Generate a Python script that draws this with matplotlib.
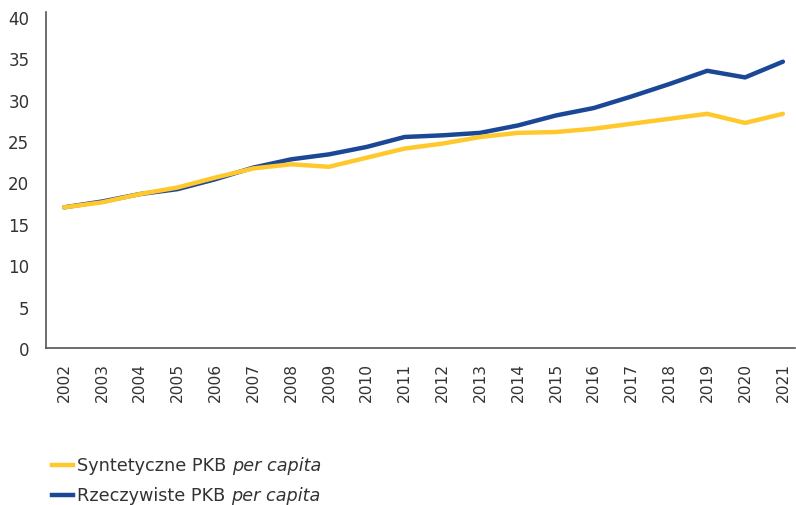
import matplotlib
matplotlib.use("Agg")
import matplotlib.pyplot as plt
from matplotlib.lines import Line2D

years = list(range(2002, 2022))
synthetic = [17.0, 17.6, 18.6, 19.4, 20.6, 21.7, 22.2, 21.9, 23.0, 24.1,
             24.7, 25.5, 26.0, 26.1, 26.5, 27.1, 27.7, 28.3, 27.2, 28.3]
actual = [17.0, 17.7, 18.6, 19.2, 20.4, 21.8, 22.8, 23.4, 24.3, 25.5,
          25.7, 26.0, 26.9, 28.1, 29.0, 30.4, 31.9, 33.5, 32.7, 34.6]
yticks = [0, 5, 10, 15, 20, 25, 30, 35, 40]
labels = ["Syntetyczne PKB ", "Rzeczywiste PKB "]

YELLOW = "#FFC92E"
BLUE = "#1B4797"
TXT = "#333333"

plt.rcParams['font.family'] = ['DejaVu Sans']

fig = plt.figure(figsize=(7.96, 5.06), dpi=100)
ax = fig.add_axes([46/796, 1-349/506, 1-46/796-1/796, (349-18)/506])

ax.plot(years, synthetic, color=YELLOW, lw=3.2, solid_capstyle='round', zorder=3)
ax.plot(years, actual, color=BLUE, lw=3.2, solid_capstyle='round', zorder=2)

ax.set_xlim(2001.52, 2021.32)
ax.set_ylim(0, 40)
ax.set_yticks(yticks)
ax.set_yticklabels([str(v) for v in yticks], fontsize=12, color=TXT)
ax.set_xticks(years)
ax.set_xticklabels([str(y) for y in years], rotation=90, fontsize=11.2, color=TXT)
ax.tick_params(length=0)
ax.tick_params(axis='x', pad=10)
ax.tick_params(axis='y', pad=12)
for s in ['top', 'right']:
    ax.spines[s].set_visible(False)
for s in ['left', 'bottom']:
    ax.spines[s].set_color('#555555')
    ax.spines[s].set_linewidth(1.2)
ax.spines['left'].set_bounds(0, 40.6)

# legend
for i, (lab, col) in enumerate(zip(labels, [YELLOW, BLUE])):
    yy = 1 - (466 + 30*i)/506
    fig.add_artist(Line2D([52/796, 73/796], [yy, yy], color=col, lw=3.2, transform=fig.transFigure))
    t = fig.text(77/796, yy, lab, fontsize=12.7, color=TXT, va='center', ha='left')
    fig.canvas.draw()
    bb = t.get_window_extent()
    x2 = bb.x1 / fig.bbox.width
    fig.text(x2, yy, "per capita", fontsize=12.7, color=TXT, va='center', ha='left', style='italic')

fig.savefig("out.png", dpi=100)
